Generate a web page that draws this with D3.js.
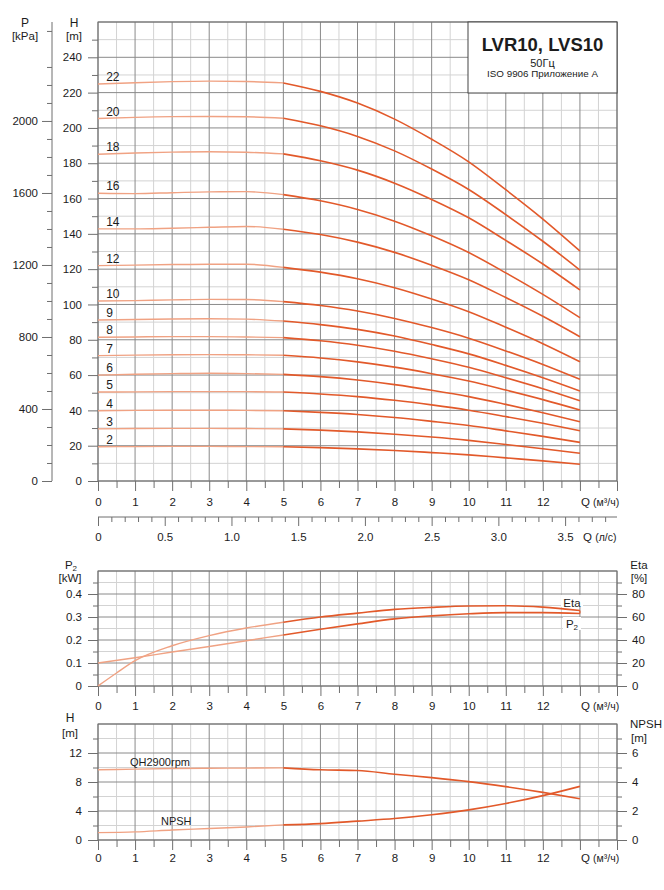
<!DOCTYPE html>
<html><head><meta charset="utf-8">
<script src="https://cdn.jsdelivr.net/npm/d3@7"></script>
<style>
body{margin:0;background:#fff}
svg{display:block}
text{font-family:"Liberation Sans",Arial,Helvetica,sans-serif;fill:#1c1c1c}
</style>
</head><body>
<svg id="c" width="664" height="890"></svg>
<script>
// ---------- DATA ----------
const flowQ = [0,1,2,3,4,5,6,7,8,9,10,11,12,13];
const stages = [22,20,18,16,14,12,10,9,8,7,6,5,4,3,2];
const h22 = [224.9,225.6,226.2,226.5,226.3,225.5,220.7,214.1,205.0,193.6,180.8,165.0,148.4,130.3];
const h20 = [205.3,206.0,206.4,206.5,206.3,205.5,201.2,195.2,187.0,176.7,165.1,150.9,135.8,119.5];
const h18 = [185.1,185.8,186.3,186.5,186.2,185.3,181.4,176.1,168.7,159.5,149.1,136.3,122.9,108.2];
const h16 = [163.0,162.8,163.3,163.8,163.9,162.2,158.7,153.8,147.2,138.9,129.4,117.9,105.7,92.5];
const h14 = [142.8,142.8,143.2,143.7,144.2,142.6,139.6,135.3,129.5,122.2,114.0,103.9,93.3,81.7];
const h12 = [122.0,122.3,122.6,122.8,122.8,121.0,118.3,114.6,109.5,103.1,95.9,87.1,77.8,67.6];
const h10 = [102.0,102.2,102.6,102.9,102.8,101.6,99.4,96.3,92.1,86.9,80.9,73.7,66.0,57.6];
const h9  = [91.2,91.5,91.8,91.9,91.7,90.6,88.6,85.9,82.1,77.3,72.0,65.5,58.5,51.0];
const h8  = [81.4,81.6,81.8,81.8,81.6,81.2,79.4,76.9,73.5,69.2,64.4,58.5,52.3,45.5];
const h7  = [71.0,71.3,71.5,71.6,71.5,71.2,69.7,67.5,64.5,60.8,56.6,51.5,46.1,40.2];
const h6  = [60.0,60.5,60.8,61.0,60.8,60.4,59.1,57.2,54.6,51.4,47.8,43.4,38.7,33.6];
const h5  = [50.4,50.5,50.6,50.6,50.6,50.4,49.3,47.8,45.7,43.1,40.1,36.5,32.7,28.5];
const h4  = [39.8,40.0,40.1,40.1,40.0,39.8,38.9,37.7,36.0,33.8,31.4,28.4,25.3,21.9];
const h3  = [29.5,29.7,29.8,29.8,29.7,29.5,28.8,27.8,26.5,24.9,23.0,20.7,18.3,15.7];
const h2  = [19.4,19.5,19.6,19.6,19.5,19.4,18.9,18.2,17.3,16.1,14.8,13.1,11.4,9.5];
const stageHeads = [h22,h20,h18,h16,h14,h12,h10,h9,h8,h7,h6,h5,h4,h3,h2];

const etaQ = [0,0.5,1,2,3,4,5,6,7,8,9,10,11,12,13];
const etaPct = [0,11.3,22,35,43.8,50.4,55.4,60,63.4,66.6,68.4,69.6,69.8,68.6,65.6];
const p2kW = [0.1,0.123,0.148,0.172,0.197,0.222,0.247,0.27,0.292,0.305,0.314,0.319,0.319,0.315];

const qh1 = [9.68,9.77,9.86,9.9,9.92,9.95,9.68,9.58,9.07,8.6,8.05,7.36,6.57,5.69];
const npsh = [0.51,0.56,0.69,0.79,0.9,1.04,1.13,1.3,1.48,1.74,2.08,2.52,3.06,3.7];

const hTicks = [0,20,40,60,80,100,120,140,160,180,200,220,240];
const pTicks = [0,400,800,1200,1600,2000];
const lsTicks = [0,0.5,1.0,1.5,2.0,2.5,3.0,3.5];
const qTicks = [0,1,2,3,4,5,6,7,8,9,10,11,12];
const p2Ticks = [0,0.1,0.2,0.3,0.4];
const etaTicks = [0,20,40,60,80];
const hBotTicks = [0,4,8,12];
const npshTicks = [0,2,4,6];

// ---------- STYLE ----------
const DARK = "#8a8a8a", LIGHT = "#d3d3d3", AX = "#6f6f6f";
const C_LIGHT = "#f0a283", C_DARK = "#e2592a";

const svg = d3.select("#c");
const X0 = 98, X1 = 617;
const x = d3.scaleLinear().domain([0,14]).range([X0,X1]);
const halfQ = d3.range(0.5,14,1);
const intQ = d3.range(0,15,1);

function styleAxis(g, fs){
  g.attr("font-family", null).attr("font-size", null);
  g.select(".domain").remove();
  g.selectAll("line").attr("stroke", AX);
  g.selectAll("text").attr("font-size", fs).attr("fill", "#1c1c1c");
  return g;
}

function grid(y, minorVals, majorVals, yTop, yBot){
  const g = svg.append("g");
  g.selectAll(null).data(halfQ).join("line")
    .attr("x1", d=>x(d)).attr("x2", d=>x(d)).attr("y1", yTop).attr("y2", yBot)
    .attr("stroke", LIGHT);
  g.selectAll(null).data(minorVals).join("line")
    .attr("x1", X0).attr("x2", X1).attr("y1", d=>y(d)).attr("y2", d=>y(d))
    .attr("stroke", LIGHT);
  g.selectAll(null).data(intQ).join("line")
    .attr("x1", d=>x(d)).attr("x2", d=>x(d)).attr("y1", yTop).attr("y2", yBot)
    .attr("stroke", DARK);
  g.selectAll(null).data(majorVals).join("line")
    .attr("x1", X0).attr("x2", X1).attr("y1", d=>y(d)).attr("y2", d=>y(d))
    .attr("stroke", DARK);
  g.append("rect").attr("x", X0).attr("y", yTop).attr("width", X1-X0).attr("height", yBot-yTop)
    .attr("fill","none").attr("stroke", AX);
}

function bottomQAxis(yPos, pad, showUnit, labelY){
  const gi = svg.append("g").attr("transform", `translate(0,${yPos})`)
    .call(d3.axisBottom(x).tickValues(intQ).tickSize(10).tickPadding(pad)
      .tickFormat(d => qTicks.includes(d) ? d : ""));
  styleAxis(gi, 11.5);
  const gh = svg.append("g").attr("transform", `translate(0,${yPos})`)
    .call(d3.axisBottom(x).tickValues(halfQ).tickSize(7).tickFormat(""));
  styleAxis(gh, 11);
  if (showUnit){
    const t = svg.append("text").attr("x", x(13)+1).attr("y", labelY).attr("font-size", 11.5);
    t.append("tspan").text("Q ");
    t.append("tspan").attr("font-size", 10.5).text("(м³/ч)");
  }
}

function drawSeries(qs, vs, y, width){
  const pts = qs.map((q,i)=>({q, v: vs[i]}));
  const line = d3.line().x(d=>x(d.q)).y(d=>y(d.v)).curve(d3.curveMonotoneX);
  svg.append("path").attr("d", line(pts.filter(d=>d.q<=5)))
    .attr("fill","none").attr("stroke", C_LIGHT).attr("stroke-width", width-0.2);
  svg.append("path").attr("d", line(pts.filter(d=>d.q>=5)))
    .attr("fill","none").attr("stroke", C_DARK).attr("stroke-width", width);
}

// ================= TOP CHART =================
const TOP = 22, BOT = 481;
const yH = d3.scaleLinear().domain([0,260]).range([BOT,TOP]);
const yP = d3.scaleLinear().domain([0,260*9.80665]).range([BOT,TOP]);
grid(yH, d3.range(10,260,20), d3.range(0,261,20), TOP, BOT);

styleAxis(svg.append("g").attr("transform",`translate(${X0},0)`)
  .call(d3.axisLeft(yH).tickValues(hTicks).tickSize(10).tickPadding(6)), 11.5);
styleAxis(svg.append("g").attr("transform",`translate(${X0},0)`)
  .call(d3.axisLeft(yH).tickValues(d3.range(10,260,20)).tickSize(6).tickFormat("")), 11);
svg.append("text").attr("x",74).attr("y",27).attr("text-anchor","middle").attr("font-size",12).text("H");
svg.append("text").attr("x",74).attr("y",40).attr("text-anchor","middle").attr("font-size",11.5).text("[m]");

const PX = 52;
svg.append("line").attr("x1",PX).attr("x2",PX).attr("y1",TOP).attr("y2",BOT).attr("stroke",AX);
styleAxis(svg.append("g").attr("transform",`translate(${PX},0)`)
  .call(d3.axisLeft(yP).tickValues(pTicks).tickSize(10).tickPadding(4).tickFormat(d3.format("d"))), 11.5);
styleAxis(svg.append("g").attr("transform",`translate(${PX},0)`)
  .call(d3.axisLeft(yP).tickValues(d3.range(100,2600,100).filter(v=>v%400!==0)).tickSize(5).tickFormat("")), 11);
svg.append("text").attr("x",25).attr("y",27).attr("text-anchor","middle").attr("font-size",12).text("P");
svg.append("text").attr("x",25).attr("y",40).attr("text-anchor","middle").attr("font-size",11.5).text("[kPa]");

bottomQAxis(BOT, 7, true, 506);

const LSY = 517;
const xL = d3.scaleLinear().domain([0,14/3.6]).range([X0,X1]);
svg.append("line").attr("x1",X0).attr("x2",X1).attr("y1",LSY).attr("y2",LSY).attr("stroke",AX);
styleAxis(svg.append("g").attr("transform",`translate(0,${LSY})`)
  .call(d3.axisBottom(xL).tickValues(lsTicks).tickSize(9).tickPadding(7)
    .tickFormat(d => d===0 ? "0" : d3.format(".1f")(d))), 11.5);
styleAxis(svg.append("g").attr("transform",`translate(0,${LSY})`)
  .call(d3.axisBottom(xL).tickValues(d3.range(1,39,1).map(v=>v/10).filter(v=>Math.abs(v*2-Math.round(v*2))>1e-6)).tickSize(5).tickFormat("")), 11);
{
  const t = svg.append("text").attr("x", 583).attr("y", 541).attr("font-size", 11.5);
  t.append("tspan").text("Q ");
  t.append("tspan").attr("font-size", 10.5).text("(л/с)");
}

stages.forEach((s,i)=>{
  drawSeries(flowQ, stageHeads[i], yH, 1.6);
  svg.append("text").attr("x", x(0.22)).attr("y", yH(stageHeads[i][0]) - 3)
    .attr("font-size", 12).text(s);
});

svg.append("rect").attr("x",468).attr("y",TOP).attr("width",X1-468).attr("height",71)
  .attr("fill","#fff").attr("stroke","#444");
svg.append("text").attr("x",542.5).attr("y",50.5).attr("text-anchor","middle")
  .attr("font-size",18.5).attr("font-weight","bold").text("LVR10, LVS10");
svg.append("text").attr("x",542.5).attr("y",66.5).attr("text-anchor","middle")
  .attr("font-size",11).text("50Гц");
svg.append("text").attr("x",542.5).attr("y",77).attr("text-anchor","middle")
  .attr("font-size",9.8).text("ISO 9906 Приложение А");

// ================= MIDDLE CHART =================
const MT = 571, MB = 686;
const yP2 = d3.scaleLinear().domain([0,0.5]).range([MB,MT]);
const yEta = d3.scaleLinear().domain([0,100]).range([MB,MT]);
grid(yP2, d3.range(0.05,0.5,0.1), d3.range(0,0.51,0.1), MT, MB);
styleAxis(svg.append("g").attr("transform",`translate(${X0},0)`)
  .call(d3.axisLeft(yP2).tickValues(p2Ticks).tickSize(10).tickPadding(6).tickFormat(d=>d===0?"0":d3.format(".1f")(d))), 11.5);
styleAxis(svg.append("g").attr("transform",`translate(${X0},0)`)
  .call(d3.axisLeft(yP2).tickValues(d3.range(0.05,0.5,0.1)).tickSize(5).tickFormat("")), 11);
styleAxis(svg.append("g").attr("transform",`translate(${X1},0)`)
  .call(d3.axisRight(yEta).tickValues(etaTicks).tickSize(10).tickPadding(5)), 11.5);
styleAxis(svg.append("g").attr("transform",`translate(${X1},0)`)
  .call(d3.axisRight(yEta).tickValues(d3.range(10,100,20)).tickSize(5).tickFormat("")), 11);
{
  const t = svg.append("text").attr("x",71).attr("y",569).attr("text-anchor","middle").attr("font-size",11.5);
  t.append("tspan").text("P");
  t.append("tspan").attr("font-size",8).attr("dy",2).text("2");
}
svg.append("text").attr("x",70).attr("y",582).attr("text-anchor","middle").attr("font-size",11.5).text("[kW]");
svg.append("text").attr("x",639).attr("y",569).attr("text-anchor","middle").attr("font-size",11.5).text("Eta");
svg.append("text").attr("x",639).attr("y",582).attr("text-anchor","middle").attr("font-size",11.5).text("[%]");
bottomQAxis(MB, 6, true, 710);

drawSeries(etaQ, etaPct, yEta, 1.6);
drawSeries(flowQ, p2kW, yP2, 1.6);
svg.append("line").attr("x1",x(13)).attr("x2",x(13)).attr("y1",yEta(etaPct[etaPct.length-1])).attr("y2",yP2(p2kW[p2kW.length-1]))
  .attr("stroke",C_DARK).attr("stroke-width",1.2);
svg.append("rect").attr("x",561).attr("y",595).attr("width",22).attr("height",12).attr("fill","#fff");
svg.append("text").attr("x",572).attr("y",606.5).attr("text-anchor","middle").attr("font-size",11.5).text("Eta");
svg.append("rect").attr("x",563).attr("y",617).attr("width",18).attr("height",13).attr("fill","#fff");
{
  const t = svg.append("text").attr("x",572).attr("y",628).attr("text-anchor","middle").attr("font-size",11.5);
  t.append("tspan").text("P");
  t.append("tspan").attr("font-size",8).attr("dy",2).text("2");
}

// ================= BOTTOM CHART =================
const BT = 724, BB = 840;
const yQH = d3.scaleLinear().domain([0,16]).range([BB,BT]);
const yN = d3.scaleLinear().domain([0,8]).range([BB,BT]);
grid(yQH, d3.range(2,16,4), d3.range(0,17,4), BT, BB);
styleAxis(svg.append("g").attr("transform",`translate(${X0},0)`)
  .call(d3.axisLeft(yQH).tickValues(hBotTicks).tickSize(10).tickPadding(6)), 11.5);
styleAxis(svg.append("g").attr("transform",`translate(${X0},0)`)
  .call(d3.axisLeft(yQH).tickValues(d3.range(2,16,4)).tickSize(5).tickFormat("")), 11);
styleAxis(svg.append("g").attr("transform",`translate(${X1},0)`)
  .call(d3.axisRight(yN).tickValues(npshTicks).tickSize(10).tickPadding(5)), 11.5);
styleAxis(svg.append("g").attr("transform",`translate(${X1},0)`)
  .call(d3.axisRight(yN).tickValues(d3.range(1,8,2)).tickSize(5).tickFormat("")), 11);
svg.append("text").attr("x",70).attr("y",722).attr("text-anchor","middle").attr("font-size",12).text("H");
svg.append("text").attr("x",70).attr("y",737).attr("text-anchor","middle").attr("font-size",11.5).text("[m]");
svg.append("text").attr("x",646).attr("y",728).attr("text-anchor","middle").attr("font-size",11.5).text("NPSH");
svg.append("text").attr("x",639).attr("y",742).attr("text-anchor","middle").attr("font-size",11.5).text("[m]");
bottomQAxis(BB, 4, true, 862);

drawSeries(flowQ, qh1, yQH, 1.6);
drawSeries(flowQ, npsh, yN, 1.6);
svg.append("text").attr("x",130).attr("y",766).attr("font-size",11).text("QH2900rpm");
svg.append("text").attr("x",161).attr("y",825).attr("font-size",11).text("NPSH");
</script>
</body></html>
